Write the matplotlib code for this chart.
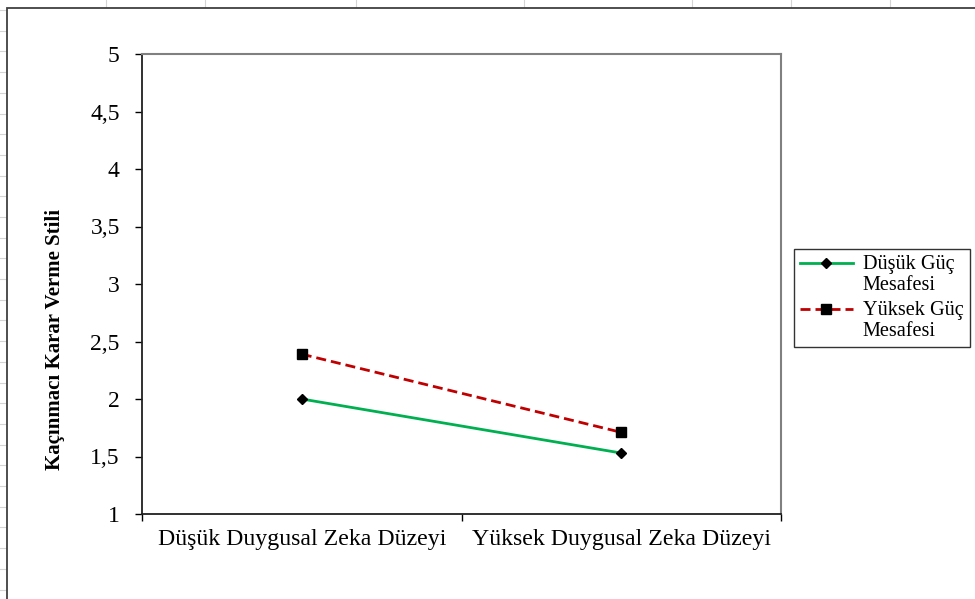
import matplotlib.pyplot as plt
from matplotlib.lines import Line2D
from matplotlib.patches import Rectangle
from matplotlib.legend_handler import HandlerLine2D

plt.rcParams['font.family'] = ['Liberation Serif', 'DejaVu Serif']

# categories and cell means
levels = ['Düşük Duygusal Zeka Düzeyi', 'Yüksek Duygusal Zeka Düzeyi']
low_power = [2.0, 1.53]
high_power = [2.39, 1.71]
series_names = ['Düşük Güç\nMesafesi', 'Yüksek Güç\nMesafesi']
y_ticks = [1, 1.5, 2, 2.5, 3, 3.5, 4, 4.5, 5]
y_tick_labels = ['1', '1,5', '2', '2,5', '3', '3,5', '4', '4,5', '5']


class FirstLineHandler(HandlerLine2D):
    # put the legend sample level with the first line of a two-line label
    def create_artists(self, legend, orig_handle, xdescent, ydescent, width, height,
                       fontsize, trans):
        return super().create_artists(legend, orig_handle, xdescent, ydescent - 17,
                                      width, height, fontsize, trans)


W, H = 975, 599
fig = plt.figure(figsize=(W / 100, H / 100), dpi=100)
fig.patch.set_facecolor('white')

# spreadsheet cell lines behind the chart object
for gx in [106, 205, 356, 524, 692, 791, 890]:
    fig.add_artist(Line2D([gx / W, gx / W], [1, 1 - 8 / H], transform=fig.transFigure,
                          color='#d4d4d4', lw=0.8, zorder=-3))
row_y = 10
while row_y < H:
    fig.add_artist(Line2D([0, 6 / W], [1 - row_y / H, 1 - row_y / H], transform=fig.transFigure,
                          color='#d4d4d4', lw=0.8, zorder=-3))
    row_y += 20.7

# chart area border
fig.add_artist(Rectangle((7 / W, -0.05), 1.1, 1 - 8 / H + 0.05, transform=fig.transFigure,
                         facecolor='white', edgecolor='#404040', lw=1.3, zorder=-2))

ax = fig.add_axes([142 / W, 85 / H, 639 / W, 460 / H])
ax.patch.set_alpha(0)
x = [0.5, 1.5]
ax.plot(x, low_power, color='#00B050', lw=2.0, marker='D', ms=5,
        mfc='black', mec='black', label=series_names[0])
ax.plot(x, high_power, color='#C00000', lw=2.0, ls=(0, (3.6, 1.8)), marker='s', ms=7,
        mfc='black', mec='black', label=series_names[1])

ax.set_xlim(0, 2)
ax.set_ylim(1, 5)
ax.set_yticks(y_ticks)
ax.set_yticklabels(y_tick_labels, fontsize=17)
ax.set_xticks([0, 1, 2])
ax.set_xticklabels([])
ax.set_xticks(x, minor=True)
ax.set_xticklabels(levels, minor=True, fontsize=17.2)
ax.tick_params(axis='x', which='major', direction='out', length=5, width=1)
ax.tick_params(axis='x', which='minor', length=0, pad=11)
ax.tick_params(axis='y', direction='out', length=5, width=1, pad=11)

for side in ['top', 'right']:
    ax.spines[side].set_color('#808080')
    ax.spines[side].set_linewidth(1.5)
for side in ['left', 'bottom']:
    ax.spines[side].set_color('#202020')
    ax.spines[side].set_linewidth(1.3)

ax.set_ylabel('Kaçınmacı Karar Verme Stili', fontsize=15, fontweight='bold')
ax.yaxis.set_label_coords(-0.12, 0.38)

leg = fig.legend(loc='upper left', bbox_to_anchor=(794 / W, 1 - 249 / H), fontsize=14.6,
                 frameon=True, fancybox=False, edgecolor='black', handlelength=2.6,
                 borderpad=0.3, labelspacing=0.3, handletextpad=0.5, borderaxespad=0,
                 handler_map={Line2D: FirstLineHandler()})
leg.get_frame().set_linewidth(1.0)
for t in leg.get_texts():
    t.set_linespacing(1.15)

fig.savefig('out.png', dpi=100)
